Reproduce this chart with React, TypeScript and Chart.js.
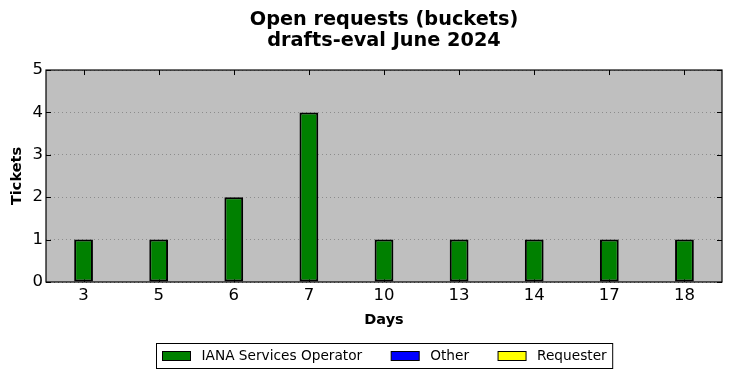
import React, { useEffect, useRef } from "react";
import { Chart, registerables } from "chart.js";

Chart.register(...registerables);

const titleLines = ["Open requests (buckets)", "drafts-eval June 2024"];
const categories = ["3", "5", "6", "7", "10", "13", "14", "17", "18"];
const ianaValues = [1, 1, 2, 4, 1, 1, 1, 1, 1];
const otherValues = [0, 0, 0, 0, 0, 0, 0, 0, 0];
const requesterValues = [0, 0, 0, 0, 0, 0, 0, 0, 0];
const seriesNames = ["IANA Services Operator", "Other", "Requester"];
const seriesColors = ["#008000", "#0000ff", "#ffff00"];
const yMin = 0;
const yMax = 5;
const xTitle = "Days";
const yTitle = "Tickets";

const FONT = "'DejaVu Sans', sans-serif";

const framePlugin = {
  id: "frame",
  beforeDraw(chart: any) {
    const { ctx, chartArea } = chart;
    ctx.save();
    ctx.fillStyle = "#bfbfbf";
    ctx.fillRect(chartArea.left, chartArea.top, chartArea.right - chartArea.left, chartArea.bottom - chartArea.top);
    ctx.restore();
  },
  beforeDatasetsDraw(chart: any) {
    const { ctx, chartArea } = chart;
    const xs = chart.scales.x;
    const ys = chart.scales.y;
    const L = 5;
    ctx.save();
    ctx.strokeStyle = "#000";
    ctx.lineWidth = 1;
    ctx.beginPath();
    for (let i = 0; i < xs.ticks.length; i++) {
      const px = Math.round(xs.getPixelForTick(i)) + 0.5;
      ctx.moveTo(px, chartArea.top);
      ctx.lineTo(px, chartArea.top + L);
      ctx.moveTo(px, chartArea.bottom);
      ctx.lineTo(px, chartArea.bottom - L);
    }
    for (let i = 0; i < ys.ticks.length; i++) {
      const py = Math.round(ys.getPixelForTick(i)) + 0.5;
      ctx.moveTo(chartArea.left, py);
      ctx.lineTo(chartArea.left + L, py);
      ctx.moveTo(chartArea.right, py);
      ctx.lineTo(chartArea.right - L, py);
    }
    ctx.stroke();
    ctx.restore();
  },
  afterDatasetsDraw(chart: any) {
    const { ctx, chartArea } = chart;
    ctx.save();
    ctx.strokeStyle = "#000";
    ctx.lineWidth = 1.2;
    ctx.strokeRect(chartArea.left, chartArea.top, chartArea.right - chartArea.left, chartArea.bottom - chartArea.top);
    ctx.restore();
  },
  afterDraw(chart: any) {
    const { ctx, chartArea } = chart;
    const ds = chart.data.datasets;
    ctx.save();
    ctx.font = `13.7px ${FONT}`;
    const swatchW = 28;
    const swatchH = 9;
    const gapText = 11;
    const gapCol = 29;
    const padX = 6;
    let total = 0;
    const widths = ds.map((d: any) => ctx.measureText(d.label).width);
    widths.forEach((w: number, i: number) => {
      total += swatchW + gapText + w + (i < widths.length - 1 ? gapCol : 0);
    });
    const boxW = total + padX * 2;
    const cx = (chartArea.left + chartArea.right) / 2;
    const boxL = Math.round(cx - boxW / 2) + 0.5;
    const boxT = 343.5;
    const boxH = 25;
    ctx.fillStyle = "#fff";
    ctx.fillRect(boxL, boxT, boxW, boxH);
    ctx.strokeStyle = "#000";
    ctx.lineWidth = 1;
    ctx.strokeRect(boxL, boxT, boxW, boxH);
    const cy = boxT + boxH / 2;
    let x = boxL + padX;
    ds.forEach((d: any, i: number) => {
      ctx.fillStyle = d.backgroundColor;
      ctx.fillRect(x, cy - swatchH / 2, swatchW, swatchH);
      ctx.strokeStyle = "#000";
      ctx.strokeRect(x, cy - swatchH / 2, swatchW, swatchH);
      x += swatchW + gapText;
      ctx.fillStyle = "#000";
      ctx.textBaseline = "middle";
      ctx.textAlign = "left";
      ctx.fillText(d.label, x, cy + 0.5);
      x += widths[i] + gapCol;
    });
    ctx.restore();
  },
};

export default function App() {
  const ref = useRef<HTMLCanvasElement | null>(null);
  useEffect(() => {
    if (!ref.current) return;
    const valueSets = [ianaValues, otherValues, requesterValues];
    const chart = new Chart(ref.current, {
      type: "bar",
      data: {
        labels: categories,
        datasets: valueSets.map((vals, i) => ({
          label: seriesNames[i],
          data: vals,
          backgroundColor: seriesColors[i],
          borderColor: "#000",
          borderWidth: 2,
          borderSkipped: false,
          barPercentage: 0.25,
          categoryPercentage: 1,
        })),
      },
      options: {
        responsive: false,
        animation: false,
        layout: { padding: { left: 0, right: 10, top: 0, bottom: 40 } },
        plugins: {
          legend: { display: false },
          tooltip: { enabled: false },
          title: {
            display: true,
            text: titleLines,
            color: "#000",
            font: { family: FONT, size: 19.3, weight: "bold", lineHeight: 1.12 },
            padding: { top: 8.7, bottom: 18.1 },
            fullSize: false,
          },
        },
        scales: {
          x: {
            stacked: true,
            grid: { display: false, drawTicks: false },
            border: { display: false },
            ticks: { color: "#000", font: { family: FONT, size: 16.5 }, padding: 4, maxRotation: 0, autoSkip: false },
            title: {
              display: true,
              text: xTitle,
              color: "#000",
              font: { family: FONT, size: 14.5, weight: "bold", lineHeight: 1.2 },
              padding: { top: 0, bottom: 9.3 },
            },
            afterFit: (s: any) => {
              s.height = 56;
            },
          },
          y: {
            stacked: true,
            min: yMin,
            max: yMax,
            grid: { color: "#8c8c8c", drawTicks: false, lineWidth: 1 },
            border: { display: false, dash: [1, 3] },
            ticks: { stepSize: 1, color: "#000", font: { family: FONT, size: 16.5 }, padding: 3 },
            title: {
              display: true,
              text: yTitle,
              color: "#000",
              font: { family: FONT, size: 14.5, weight: "bold", lineHeight: 1.2 },
              padding: { top: 8.3, bottom: 0 },
            },
            afterFit: (s: any) => {
              s.width = 46;
            },
          },
        },
      },
      plugins: [framePlugin],
    });
    return () => chart.destroy();
  }, []);
  return (
    <div style={{ position: "absolute", left: 0, top: 0, width: 732, height: 378, background: "#fff" }}>
      <canvas ref={ref} width={732} height={378} />
    </div>
  );
}
